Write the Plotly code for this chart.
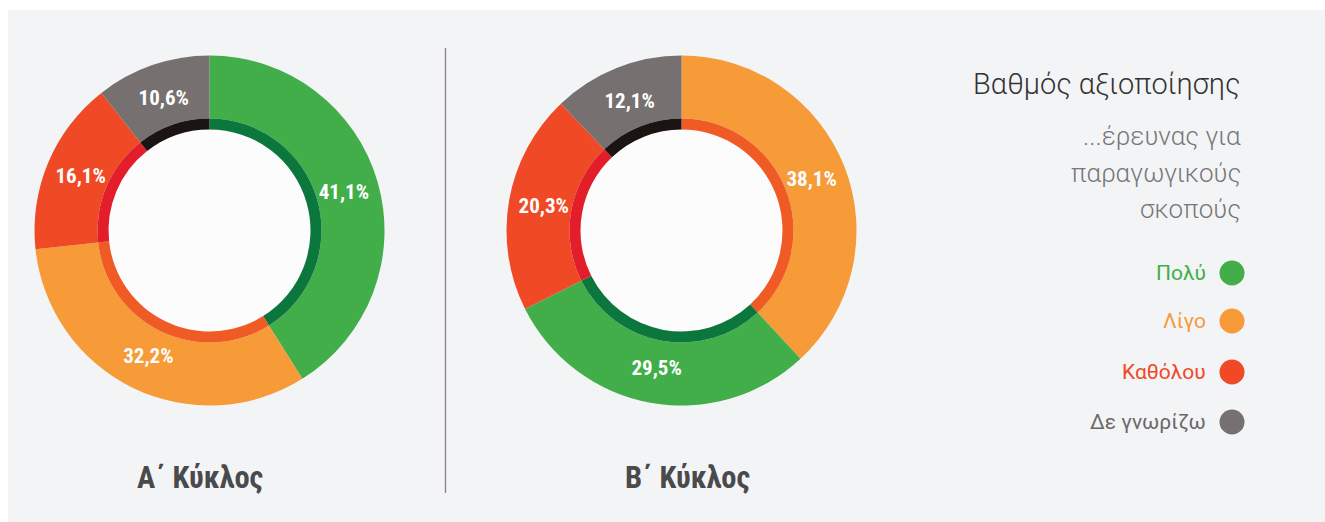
import plotly.graph_objects as go

W, H = 1325, 522

categories = ["Πολύ", "Λίγο", "Καθόλου", "Δε γνωρίζω"]
cycle_titles = ["Α΄ Κύκλος", "Β΄ Κύκλος"]
values_a = [41.1, 32.2, 16.1, 10.6]
# B cycle: order drawn clockwise from top: Λίγο, Πολύ, Καθόλου, Δε γνωρίζω
values_b = {"Πολύ": 29.5, "Λίγο": 38.1, "Καθόλου": 20.3, "Δε γνωρίζω": 12.1}
order_b = ["Λίγο", "Πολύ", "Καθόλου", "Δε γνωρίζω"]

outer_colors = {"Πολύ": "#41ae4a", "Λίγο": "#f79a38", "Καθόλου": "#ef4a25", "Δε γνωρίζω": "#767170"}
inner_colors = {"Πολύ": "#0c773d", "Λίγο": "#f05a24", "Καθόλου": "#e31e2a", "Δε γνωρίζω": "#1c1313"}

legend_title = "Βαθμός αξιοποίησης"
legend_subtitle = ["...έρευνας για", "παραγωγικούς", "σκοπούς"]
legend_text_colors = {"Πολύ": "#41ae4a", "Λίγο": "#f79a38", "Καθόλου": "#ef4a25", "Δε γνωρίζω": "#6d6868"}

COND = "Roboto Condensed, Liberation Sans Narrow, Arial Narrow, Roboto"

# layout geometry (pixels)
centers = [(209.5, 230.5), (681.5, 230.5)]
R_OUT, R_MID, R_IN = 175, 112, 101
R_TXT, HOLE_TXT = 184, 0.52   # transparent label ring, its middle at ~140 px

fig = go.Figure()

def dom(cx, cy, r):
    return dict(x=[(cx - r) / W, (cx + r) / W], y=[(H - cy - r) / H, (H - cy + r) / H])

donuts = [
    (categories, values_a),
    (order_b, [values_b[c] for c in order_b]),
]

shapes = [
    dict(type="rect", xref="paper", yref="paper", x0=8 / W, x1=1, y0=0, y1=(H - 10) / H,
         fillcolor="#f3f4f6", line=dict(width=0), layer="below"),
    dict(type="line", xref="paper", yref="paper", x0=445.5 / W, x1=445.5 / W,
         y0=(H - 493) / H, y1=(H - 48) / H, line=dict(color="#8c8484", width=1.3), layer="below"),
]

for (labels, vals), (cx, cy), title in zip(donuts, centers, cycle_titles):
    fig.add_trace(go.Pie(
        labels=labels, values=vals, sort=False, direction="clockwise", rotation=0,
        hole=R_MID / R_OUT, domain=dom(cx, cy, R_OUT),
        marker=dict(colors=[outer_colors[c] for c in labels], line=dict(width=0)),
        textinfo="none", showlegend=False, hoverinfo="label+value",
    ))
    fig.add_trace(go.Pie(
        labels=labels, values=vals, sort=False, direction="clockwise", rotation=0,
        hole=R_IN / R_MID, domain=dom(cx, cy, R_MID),
        marker=dict(colors=[inner_colors[c] for c in labels], line=dict(width=0)),
        textinfo="none", showlegend=False, hoverinfo="skip",
    ))
    # transparent ring that only carries the value labels
    fig.add_trace(go.Pie(
        labels=labels, values=vals, sort=False, direction="clockwise", rotation=0,
        hole=HOLE_TXT, domain=dom(cx, cy, R_TXT),
        marker=dict(colors=["rgba(0,0,0,0)"] * len(labels), line=dict(width=0)),
        texttemplate="%{value:.1f}%", textposition="inside", insidetextorientation="horizontal",
        textfont=dict(color="white", size=21, family=COND, weight="bold"),
        showlegend=False, hoverinfo="skip",
    ))
    shapes.append(dict(type="circle", xref="paper", yref="paper",
                       x0=(cx - R_IN) / W, x1=(cx + R_IN) / W,
                       y0=(H - cy - R_IN) / H, y1=(H - cy + R_IN) / H,
                       fillcolor="#fcfcfc", line=dict(width=0), layer="below"))

annotations = []
title_x = [200, 687]
for tx, title in zip(title_x, cycle_titles):
    annotations.append(dict(x=tx, y=477, xref="x", yref="y", text=title, showarrow=False,
                            xanchor="center", yanchor="middle",
                            font=dict(family=COND, size=30.5, color="#4a4a4c", weight="bold")))

annotations.append(dict(x=1243, y=84, xref="x", yref="y", text=legend_title, showarrow=False,
                        xanchor="right", yanchor="middle",
                        font=dict(family="Roboto", size=29, color="#333333", weight=300)))
for i, line in enumerate(legend_subtitle):
    annotations.append(dict(x=1243, y=136 + i * 36.5, xref="x", yref="y", text=line, showarrow=False,
                            xanchor="right", yanchor="middle",
                            font=dict(family="Roboto", size=26, color="#777777", weight=300)))

legend_y = [273, 321, 372, 422]
for c, ly in zip(categories, legend_y):
    annotations.append(dict(x=1208, y=ly, xref="x", yref="y", text=c, showarrow=False,
                            xanchor="right", yanchor="middle",
                            font=dict(family="Roboto", size=21, color=legend_text_colors[c])))

fig.add_trace(go.Scatter(
    x=[1232] * len(categories), y=legend_y, mode="markers",
    marker=dict(size=25, color=[outer_colors[c] for c in categories], line=dict(width=0)),
    showlegend=False, hoverinfo="skip",
))

fig.update_layout(
    width=W, height=H, margin=dict(l=0, r=0, t=0, b=0),
    paper_bgcolor="white", plot_bgcolor="rgba(0,0,0,0)",
    separators=", ",
    xaxis=dict(range=[0, W], visible=False, fixedrange=True),
    yaxis=dict(range=[H, 0], visible=False, fixedrange=True),
    shapes=shapes, annotations=annotations,
)

fig.write_html("out.html", config={"displayModeBar": False},
               post_script="document.body.style.margin='0';")
